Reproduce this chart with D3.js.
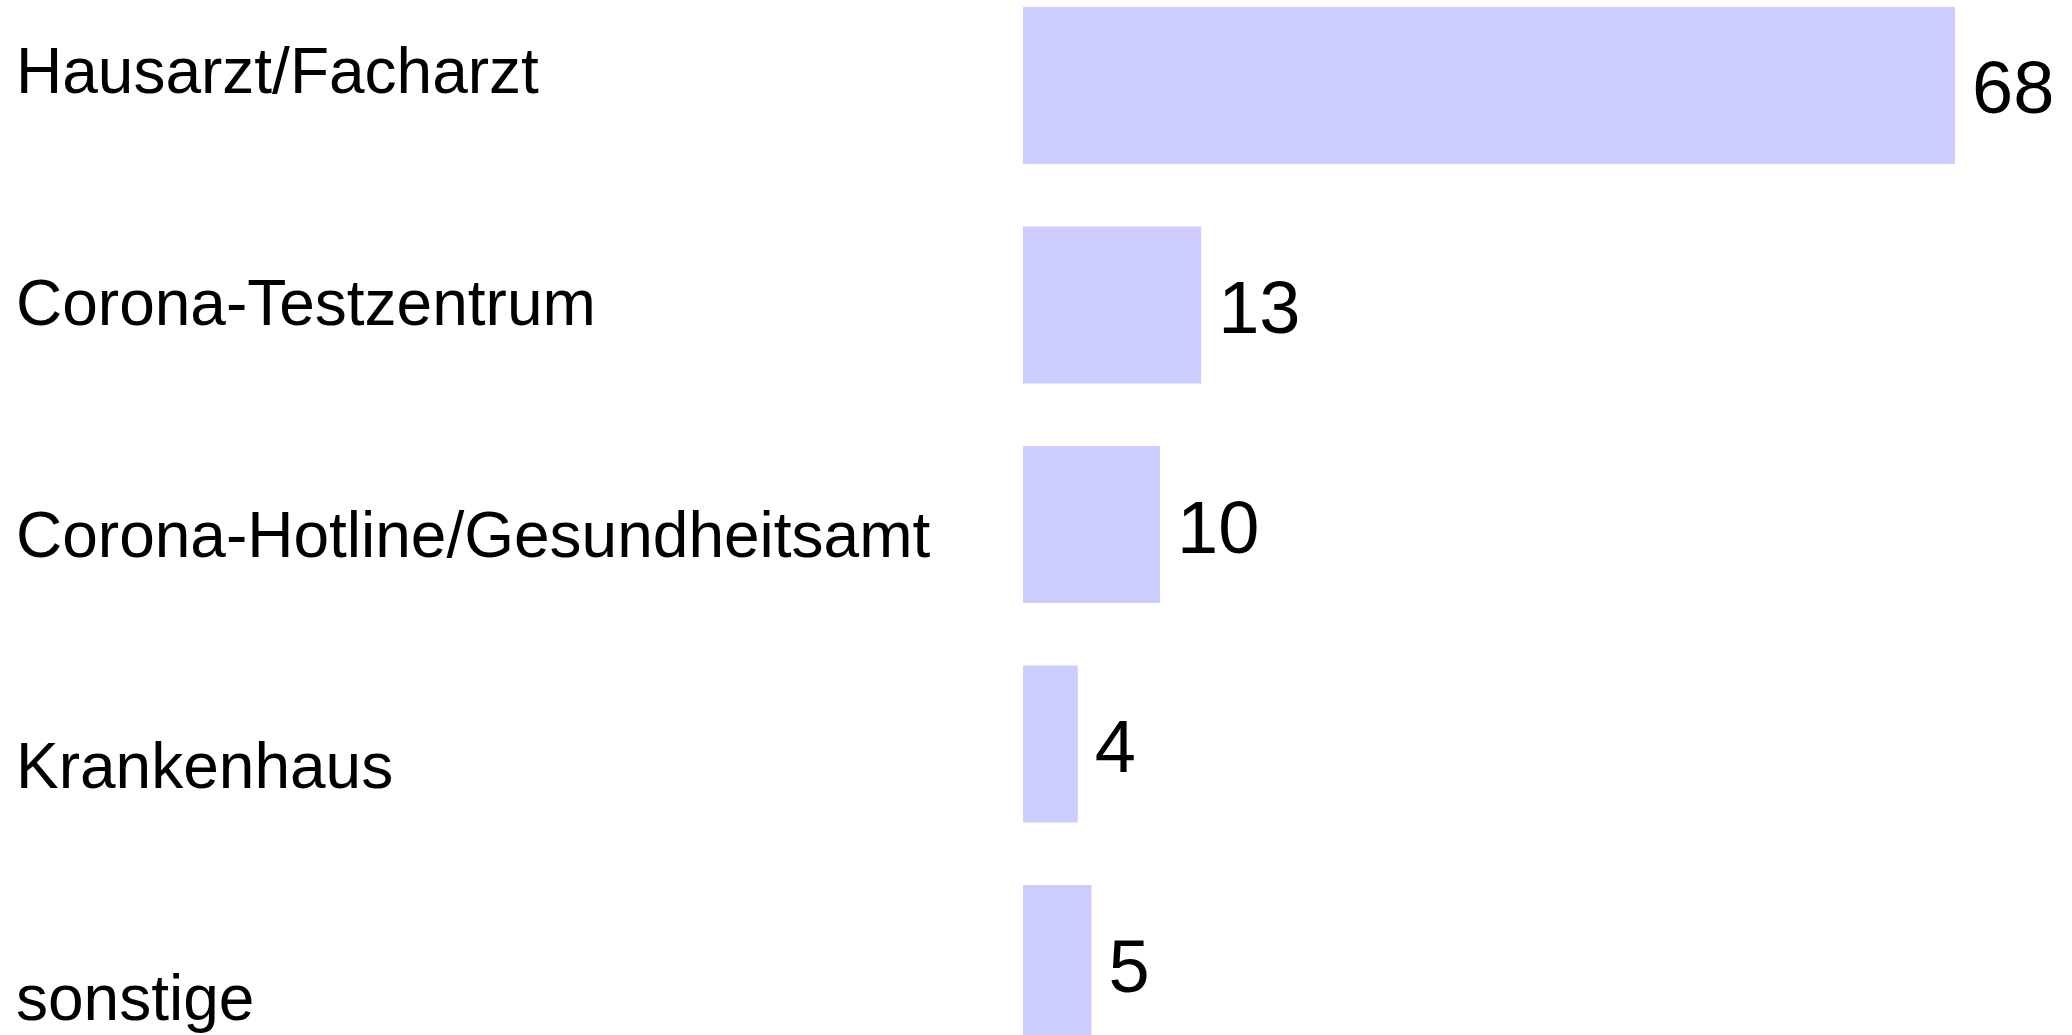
<!DOCTYPE html>
<html>
<head>
<meta charset="utf-8">
<script src="https://cdn.jsdelivr.net/npm/d3@7"></script>
<style>
  html, body { margin: 0; padding: 0; background: #fff; }
  svg { display: block; font-family: "Liberation Sans", Arial, sans-serif; }
</style>
</head>
<body>
<div id="chart"></div>
<script>
const categories = ['Hausarzt/Facharzt', 'Corona-Testzentrum', 'Corona-Hotline/Gesundheitsamt', 'Krankenhaus', 'sonstige']
const values = [68, 13, 10, 4, 5]

const width = 2072
const height = 1035

const svg = d3.select('#chart')
  .append('svg')
  .attr('width', width)
  .attr('height', height)

const xScale = d3.scaleLinear()
  .domain([0, 68])
  .range([1023, 1955])

// bars run past the bottom edge, like the original
const yScale = d3.scaleBand()
  .domain(categories)
  .range([7, 1042])
  .paddingInner(0.285)
  .paddingOuter(0)

// category labels are spaced on their own grid
const labelScale = d3.scalePoint()
  .domain(categories)
  .range([93.3, 1020])

const data = categories.map((c, i) => ({ category: c, value: values[i] }))

svg.append('g')
  .selectAll('rect')
  .data(data)
  .join('rect')
  .attr('x', xScale(0))
  .attr('y', d => yScale(d.category))
  .attr('width', d => xScale(d.value) - xScale(0))
  .attr('height', yScale.bandwidth())
  .attr('fill', '#ccccff')

svg.append('g')
  .selectAll('text')
  .data(data)
  .join('text')
  .attr('x', d => xScale(d.value) + 17)
  .attr('y', d => yScale(d.category) + yScale.bandwidth() / 2 + 28)
  .attr('font-size', 74)
  .attr('fill', '#000')
  .text(d => d.value)

svg.append('g')
  .selectAll('text')
  .data(categories)
  .join('text')
  .attr('x', 16)
  .attr('y', d => labelScale(d))
  .attr('font-size', 64)
  .attr('fill', '#000')
  .text(d => d)
</script>
</body>
</html>
